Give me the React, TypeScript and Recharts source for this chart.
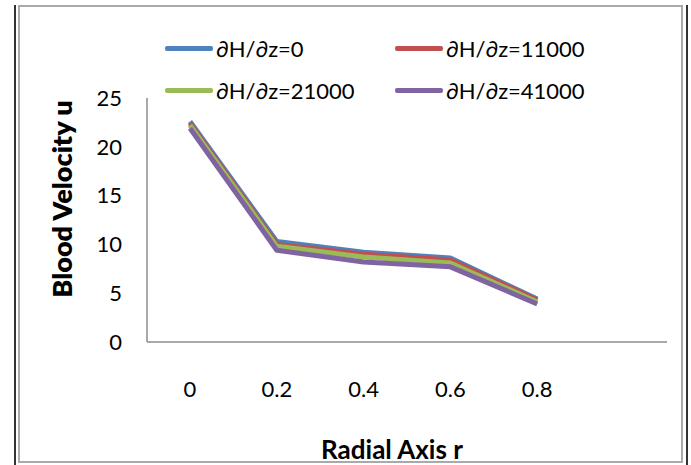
import { LineChart, Line, XAxis, YAxis, Label } from "recharts";

// radial positions (last slot is an empty category, as in the original)
const R_VALUES = ["0", "0.2", "0.4", "0.6", "0.8", ""];

// blood velocity u for each dH/dz
const U_DH_0 = [22.6, 10.3, 9.2, 8.6, 4.4, null];
const U_DH_11000 = [22.4, 10.0, 9.0, 8.4, 4.3, null];
const U_DH_21000 = [22.2, 9.8, 8.7, 8.1, 4.1, null];
const U_DH_41000 = [21.9, 9.4, 8.2, 7.7, 3.9, null];

const U_TICKS = [0, 5, 10, 15, 20, 25];

const SERIES = [
  { key: "dh0", name: "∂H/∂z=0", color: "#4F81BD", values: U_DH_0 },
  { key: "dh11000", name: "∂H/∂z=11000", color: "#C0504D", values: U_DH_11000 },
  { key: "dh21000", name: "∂H/∂z=21000", color: "#9BBB59", values: U_DH_21000 },
  { key: "dh41000", name: "∂H/∂z=41000", color: "#8064A2", values: U_DH_41000 },
];

const data = R_VALUES.map((r, i) => {
  const row: any = { r };
  SERIES.forEach((s) => (row[s.key] = s.values[i]));
  return row;
});

const FONT = "Lato, 'Open Sans', sans-serif";

const LegendBox = () => (
  <div
    style={{
      position: "absolute",
      left: 165,
      top: 34,
      display: "grid",
      gridTemplateColumns: "230px 230px",
      rowGap: 14,
      fontFamily: FONT,
      fontSize: 22,
      color: "#000",
    }}
  >
    {SERIES.map((s) => (
      <div key={s.key} style={{ display: "flex", alignItems: "center", height: 28 }}>
        <span
          style={{
            width: 48,
            height: 5,
            borderRadius: 2,
            background: s.color,
            marginRight: 3,
            flexShrink: 0,
          }}
        />
        <span>{s.name}</span>
      </div>
    ))}
  </div>
);

export default function App() {
  return (
    <div style={{ position: "absolute", left: 0, top: 0, width: 691, height: 465, background: "#fff" }}>
      {/* frame around the figure */}
      <div
        style={{
          position: "absolute",
          left: 14,
          top: 5,
          width: 674,
          height: 462,
          borderLeft: "2px solid #333",
          borderRight: "2px solid #333",
          boxSizing: "border-box",
        }}
      />
      <div
        style={{
          position: "absolute",
          left: 18,
          top: 5,
          width: 665,
          height: 458,
          border: "2px solid #aaa",
          boxSizing: "border-box",
        }}
      />
      <div style={{ position: "absolute", left: 0, top: 0 }}>
        <LineChart
          width={691}
          height={465}
          data={data}
          margin={{ top: 98, right: 24, bottom: 0, left: 37 }}
        >
          <XAxis
            dataKey="r"
            stroke="#8c8c8c"
            strokeWidth={1.5}
            tickLine={false}
            tickSize={0}
            tickMargin={39}
            padding={{ left: 43, right: 43 }}
            tick={{ fontSize: 22, fill: "#000", fontFamily: FONT }}
            height={123}
          >
            <Label
              value="Radial Axis  r"
              position="insideBottom"
              offset={6}
              dx={-15}
              style={{ fontSize: 26, fontWeight: 700, fill: "#000", fontFamily: FONT }}
            />
          </XAxis>
          <YAxis
            domain={[0, 25]}
            ticks={U_TICKS}
            stroke="#8c8c8c"
            strokeWidth={1.5}
            tickLine={false}
            tickSize={0}
            tickMargin={25}
            width={110}
            tick={{ fontSize: 22, fill: "#000", fontFamily: FONT }}
          >
            <Label
              value="Blood Velocity u"
              angle={-90}
              position="insideLeft"
              offset={25}
              dy={-21}
              style={{ fontSize: 27, fontWeight: 800, fill: "#000", fontFamily: FONT, textAnchor: "middle" }}
            />
          </YAxis>
          {SERIES.map((s) => (
            <Line
              key={s.key}
              dataKey={s.key}
              name={s.name}
              stroke={s.color}
              strokeWidth={5}
              dot={false}
              activeDot={false}
              strokeLinejoin="round"
              connectNulls={false}
              isAnimationActive={false}
            />
          ))}
        </LineChart>
      </div>
      <LegendBox />
    </div>
  );
}
